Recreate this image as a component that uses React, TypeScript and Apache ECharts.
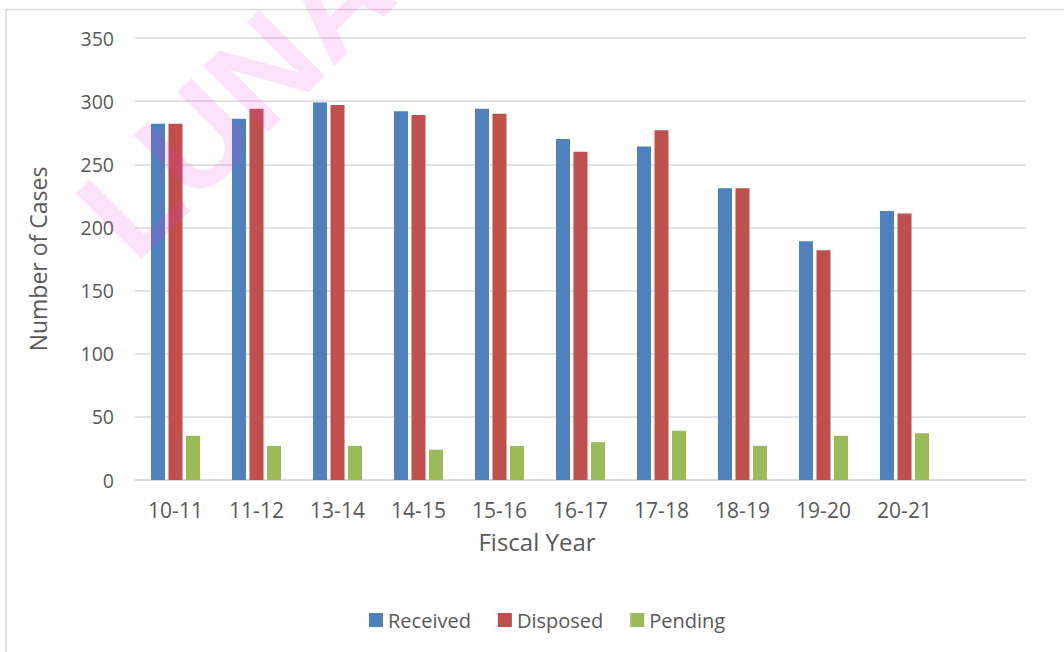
import React, { useEffect, useRef } from "react";
import * as echarts from "echarts";

const categories = ["10-11", "11-12", "13-14", "14-15", "15-16", "16-17", "17-18", "18-19", "19-20", "20-21"];
const received = [282, 286, 299, 292, 294, 270, 264, 231, 189, 213];
const disposed = [282, 294, 297, 289, 290, 260, 277, 231, 182, 211];
const pending = [35, 27, 27, 24, 27, 30, 39, 27, 35, 37];
const yTicks = { min: 0, max: 350, interval: 50 };

const FONT = "'Open Sans', 'Liberation Sans', sans-serif";
const TEXT = "#595959";
const GRIDC = "#d9d9d9";

export default function App() {
  const ref = useRef<HTMLDivElement>(null);
  useEffect(() => {
    if (!ref.current) return;
    const chart = echarts.init(ref.current, undefined, { renderer: "svg" });
    chart.setOption({
      animation: false,
      textStyle: { fontFamily: FONT },
      grid: { left: 135, right: 38, top: 38, bottom: 172 },
      legend: {
        left: 364,
        top: 605,
        icon: "rect",
        itemWidth: 14,
        itemHeight: 14,
        itemGap: 27,
        textStyle: { color: TEXT, fontSize: 20, fontFamily: FONT },
        data: ["Received", "Disposed", "Pending"],
      },
      xAxis: {
        type: "category",
        data: [...categories, ""],
        axisTick: { show: false },
        axisLine: { lineStyle: { color: GRIDC, width: 1.5 } },
        axisLabel: { color: TEXT, fontSize: 21, margin: 19, fontFamily: FONT },
      },
      yAxis: {
        type: "value",
        min: yTicks.min,
        max: yTicks.max,
        interval: yTicks.interval,
        name: "Number of Cases",
        nameLocation: "middle",
        nameGap: 86,
        nameRotate: 90,
        nameTextStyle: { color: TEXT, fontSize: 23, fontFamily: FONT },
        axisLine: { show: false },
        axisTick: { show: false },
        axisLabel: { color: TEXT, fontSize: 19.5, margin: 21, fontFamily: FONT },
        splitLine: { lineStyle: { color: GRIDC, width: 1.5 } },
      },
      series: [
        { name: "Received", type: "bar", data: received, barWidth: 14, barGap: "25%", itemStyle: { color: "#4f81bd" } },
        { name: "Disposed", type: "bar", data: disposed, barWidth: 14, barGap: "25%", itemStyle: { color: "#c0504d" } },
        { name: "Pending", type: "bar", data: pending, barWidth: 14, barGap: "25%", itemStyle: { color: "#9bbb59" } },
      ],
      graphic: [
        {
          type: "rect",
          silent: true,
          shape: { x: 6, y: 9.5, width: 1200, height: 800 },
          style: { fill: "none", stroke: GRIDC, lineWidth: 1.5 },
          z: -1,
        },
        {
          type: "text",
          x: 537,
          y: 541,
          style: {
            text: "Fiscal Year",
            fill: TEXT,
            fontSize: 24,
            fontFamily: FONT,
            textAlign: "center",
            textVerticalAlign: "middle",
          },
        },
        {
          type: "text",
          x: 235,
          y: 100,
          rotation: Math.PI / 4,
          silent: true,
          z: 100,
          style: {
            text: "LUNA",
            fill: "rgba(233,48,219,0.14)",
            fontSize: 135,
            fontWeight: 900,
            fontFamily: "'Liberation Sans', sans-serif",
            textAlign: "center",
            textVerticalAlign: "middle",
          },
        },
      ],
    });
    return () => chart.dispose();
  }, []);
  return <div ref={ref} style={{ position: "absolute", left: 0, top: 0, width: 1064, height: 652, background: "#fff" }} />;
}
